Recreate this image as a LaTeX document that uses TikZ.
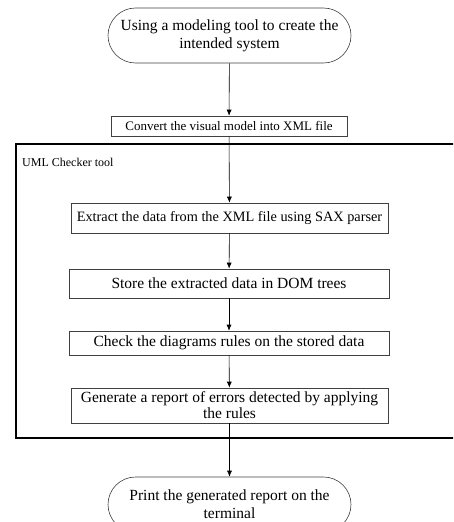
\documentclass[tikz,border=0pt]{standalone}
\usepackage{fontspec}
\setmainfont{Liberation Serif}
\usetikzlibrary{shapes.misc,arrows.meta}
\begin{document}
\begin{tikzpicture}[x=1pt,y=-1pt,
  stepbox/.style={draw=black!75, line width=0.6pt, inner sep=1pt, align=center, font=\fontsize{15.5}{16}\selectfont},
  termbox/.style={draw=black!75, line width=0.6pt, rounded rectangle, inner sep=1pt, align=center, font=\fontsize{15.5}{18}\selectfont},
  flow/.style={draw=black, line width=0.6pt, -{Latex[length=6pt,width=5pt]}},
  frame/.style={draw=black, line width=1.3pt}]
\useasboundingbox (0,0) rectangle (453,522);
\clip (0,0) rectangle (453,522);
\node[termbox, minimum width=245, minimum height=55] (start) at (229.5,35.5) {Using a modeling tool to create the\\intended system};
\node[stepbox, minimum width=236, minimum height=20, font=\fontsize{13}{15}\selectfont] (convert) at (229,126) {Convert the visual model into XML file};
\node[stepbox, minimum width=317, minimum height=30, font=\fontsize{14.3}{16}\selectfont] (extract) at (229.5,218) {Extract the data from the XML file using SAX parser};
\node[stepbox, minimum width=320, minimum height=29] (store) at (229,283.5) {Store the extracted data in DOM trees};
\node[stepbox, minimum width=320, minimum height=24] (check) at (229,343) {Check the diagrams rules on the stored data};
\node[stepbox, minimum width=317, minimum height=35] (generate) at (229.5,405.5) {Generate a report of errors detected by applying\\the rules};
\node[termbox, minimum width=245, minimum height=55] (end) at (229.5,504.5) {Print the generated report on the\\terminal};
\coordinate (ftr) at (455,144);
\coordinate (ftl) at (16,144);
\coordinate (fbl) at (16,438);
\coordinate (fbr) at (455,438);
\draw[frame] (ftr) -- (ftl) -- (fbl) -- (fbr);
\node[anchor=west, inner sep=0pt, font=\fontsize{12}{14}\selectfont] (lbl) at (22,162) {UML Checker tool};
\draw[flow] (start) -- (convert);
\draw[flow] (convert) -- (extract);
\draw[flow] (extract) -- (store);
\draw[flow] (store) -- (check);
\draw[flow] (check) -- (generate);
\draw[flow] (generate) -- (end);
\end{tikzpicture}
\end{document}
